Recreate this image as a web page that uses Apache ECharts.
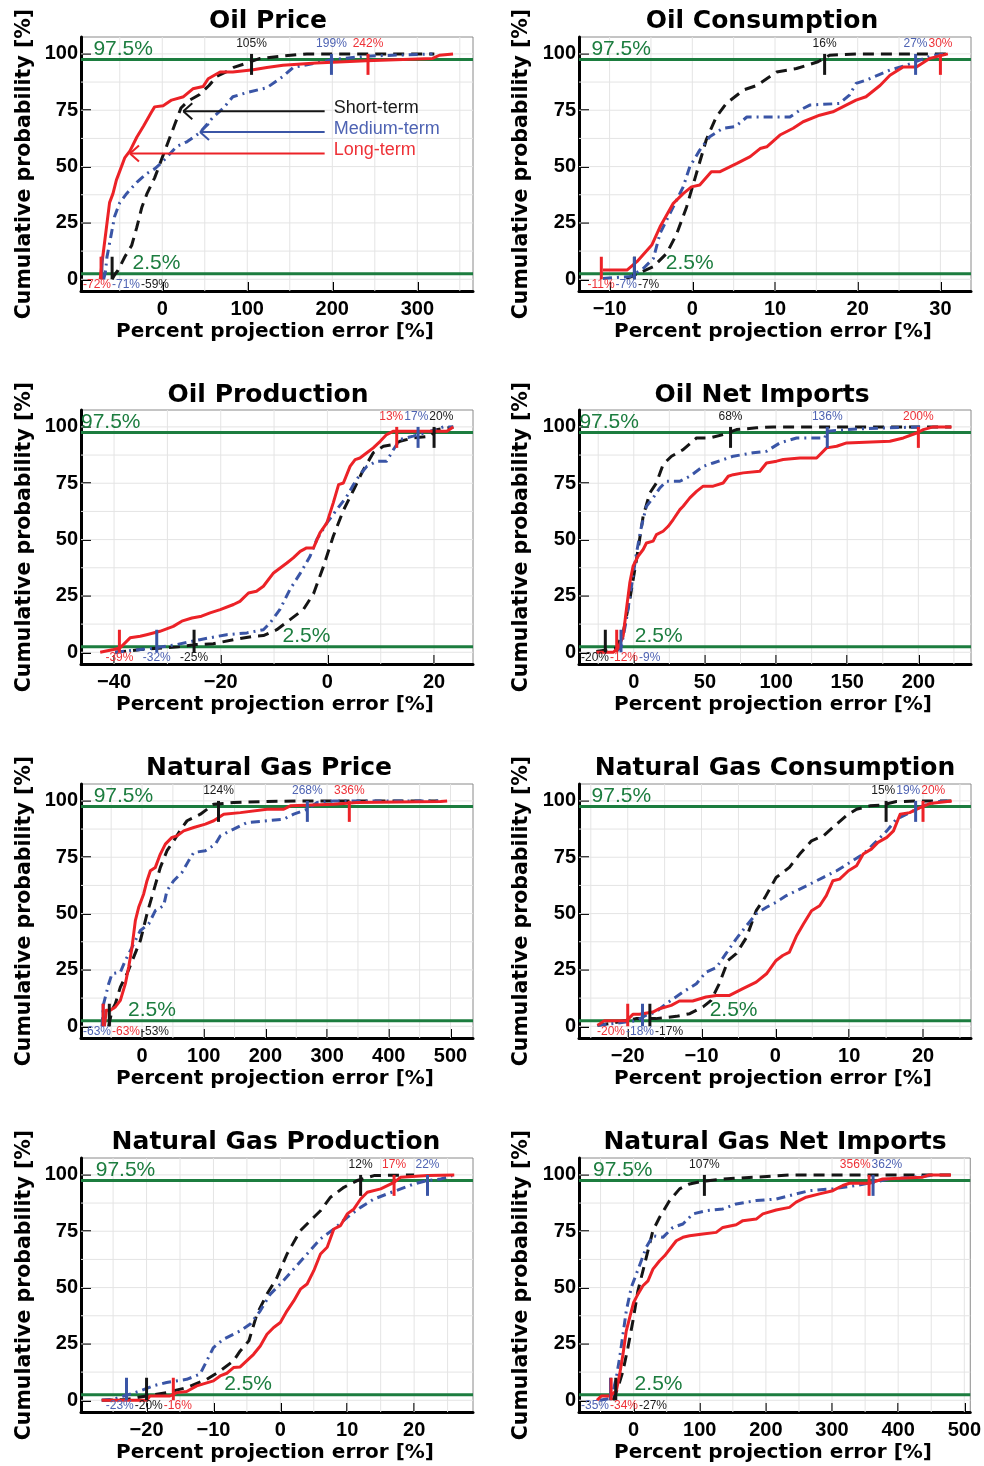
<!DOCTYPE html>
<html>
<head>
<meta charset="utf-8">
<script src="https://cdn.jsdelivr.net/npm/echarts@6/dist/echarts.min.js"></script>
<style>
  html, body { margin: 0; padding: 0; background: #fff; }
  #chart { width: 984px; height: 1466px; }
</style>
</head>
<body>
<div id="chart"></div>
<script>
// ---- Cumulative distributions of percent projection errors: [error %, cumulative %] ----
// Series order in every panel: short-term, medium-term, long-term.

// Oil Price
const opShort = [[-59,0],[-56,2],[-52,4],[-44,10],[-36,15],[-30,23],[-24,32],[-18,38],[-9,45],[-2,52],[3,57],[9,63],[15,69],[22,76],[30,79],[44,82],[55,86],[64,90],[75,92],[84,94],[100,96],[115,98],[140,99],[170,100],[320,100]];
const opMedium = [[-69,0],[-67,3],[-65,10],[-60,20],[-56,28],[-50,34],[-42,38],[-30,43],[-18,47],[-9,49],[-3,51],[5,54],[17,59],[29,61],[44,65],[60,72],[72,76],[83,81],[101,83],[123,85],[142,90],[154,94],[181,96],[201,97.5],[240,99],[318,100]];
const opLong = [[-73,0],[-70,10],[-66,22],[-62,34],[-58,38],[-54,44],[-50,48],[-44,54],[-38,57],[-30,63],[-22,68],[-13,74],[-9,76.5],[1,77],[11,79.5],[25,81],[36,84.5],[48,85.5],[54,89],[68,92],[83,92],[107,93],[123,94],[142,95],[181,96],[240,97],[318,98],[326,99.4],[342,100]];
const opLower = [-59, -71, -72];
const opUpper = [105, 199, 242];
const opTicks = [0, 100, 200, 300];

// Oil Consumption
const ocShort = [[-8,0.5],[-7.5,1],[-6.3,3],[-4.7,5.6],[-3.1,11.5],[-1.9,20],[-0.7,32],[0.5,47],[1.7,62],[2.9,72],[4.1,78],[6.2,84],[7.8,86],[10.2,92],[12.6,93.5],[15.2,96.5],[16.6,99.4],[19.8,100],[30.9,100]];
const ocMedium = [[-10.8,0.4],[-7.5,1.2],[-5.9,4.9],[-4.7,9.3],[-3.9,20.4],[-2.5,30.7],[-1.1,41],[-0.3,50],[0.9,57.3],[2.1,63.2],[3.7,67],[5.2,67.7],[6.6,72],[11.8,72],[13,75],[14.2,77.3],[17.8,78],[19,81.7],[19.8,86.9],[21,88.3],[23.9,92.8],[25.9,95],[27.5,97.2],[29.1,99.4],[30.7,100]];
const ocLong = [[-10.8,4.1],[-7.9,4.1],[-6.7,7.8],[-4.9,15.2],[-3.9,23.3],[-2.3,33.7],[-1.1,38],[-0.1,41],[0.9,41.8],[2.3,47.7],[3.3,47.7],[5.4,51.4],[7,54.4],[8.2,58],[9,58.8],[10.6,64],[12.2,67],[13.4,69.9],[15.4,72.8],[17,74.3],[18.6,77.3],[19.8,79.5],[21,81],[22.7,86],[23.9,90.5],[25.5,94.2],[27.1,94.2],[28.7,98],[30.9,100]];
const ocLower = [-7, -7, -11];
const ocUpper = [16, 27, 30];
const ocTicks = [-10, 0, 10, 20, 30];

// Oil Production
const prShort = [[-39.8,0],[-35,1.2],[-28,2.4],[-24.8,3.4],[-21.4,3.8],[-17.6,5.6],[-13.9,7.1],[-12,7.4],[-9.5,10],[-7,14.5],[-4.5,19],[-2.6,26],[-0.75,38],[1.1,51.5],[3,63],[4.9,72],[6.75,81],[8.6,88.5],[10.5,91.4],[12.4,92.2],[13.6,93.6],[16.1,95.1],[19.3,95.9],[20.5,98.8],[23.6,100]];
const prMedium = [[-39.8,0],[-32.6,1.9],[-28.3,3.4],[-23.9,5.6],[-18.9,7.8],[-15.1,8.6],[-12,10],[-10.75,13],[-8.9,19],[-7,28],[-5.1,35],[-3.25,42.6],[-2,50],[-0.1,57.4],[1.75,63.3],[3.6,69],[4.9,74.4],[6.1,78.8],[7.4,82.5],[9.25,84.8],[11.1,84.8],[12.4,90],[13.6,94.4],[16.1,95.9],[19.3,98.1],[21.75,100],[23.6,100]];
const prLong = [[-42.6,0],[-40.1,1.2],[-38.9,1.9],[-37,6.4],[-35.1,7.1],[-33.9,7.8],[-31.4,9.3],[-28.9,11.5],[-27.3,13.8],[-25.4,15.2],[-23.6,16],[-22,17.5],[-20.1,18.9],[-17.6,21.2],[-16.4,22.6],[-14.8,26.3],[-13.3,27.1],[-12,29.3],[-10.1,35.2],[-7.6,39.6],[-6.4,41.9],[-5.1,44.8],[-3.9,46.3],[-2.6,46.3],[-1.4,53],[-0.1,57.4],[1.1,66.3],[2.1,74.4],[3,75.1],[4.25,82.5],[5.2,85.5],[6.1,86.2],[7.4,88.5],[8.6,90.7],[9.9,93.6],[11.1,96.6],[12.4,98.1],[22.4,98.1],[23.6,100]];
const prLower = [-25, -32, -39];
const prUpper = [20, 17, 13];
const prTicks = [-40, -20, 0, 20];

// Oil Net Imports
const niShort = [[-26.3,0.4],[-19.2,1],[-12.2,1.9],[-7.5,8.6],[-2.8,23.4],[1.9,41.1],[6.6,60.4],[11.3,70.7],[15.9,75.1],[20.6,83.3],[26.5,87],[34.7,89.9],[44.1,95.1],[53.5,95.1],[62.8,96.6],[72.2,98.8],[86.3,99.6],[98,100],[223,100]];
const niMedium = [[-12.2,0.4],[-8.7,2.7],[-5.2,14.5],[-1.6,29.3],[1.9,44.1],[5.4,55.9],[8.9,64.8],[13.6,68.5],[18.3,72.9],[23,75.9],[32.4,75.9],[39.4,78.1],[48.8,82.5],[55.8,84],[69.9,87],[83.9,88.5],[93.3,89.2],[102.7,92.9],[114.4,95.1],[134.3,95.1],[135.5,98.1],[156.6,99.1],[180,99.6],[203.5,100]];
const niLong = [[-26.3,0],[-14.5,0],[-11,1.9],[-7.5,7.1],[-5.2,18.9],[-2.8,30.8],[-0.5,38.2],[3,42.6],[6.6,45.6],[8.9,48.5],[13.6,49.3],[15.9,52.2],[20.6,53.7],[24.2,55.9],[27.7,58.9],[32.4,63.3],[34.7,64.8],[39.4,68.5],[44.1,71.4],[48.8,73.7],[55.8,73.7],[62.8,75.1],[66.4,78.1],[69.9,78.8],[76.9,79.6],[88.6,80.3],[93.3,84],[100.4,84.8],[105,85.5],[116.8,86.2],[128.5,86.2],[135.5,90.7],[142.6,91.4],[149.6,92.9],[180,93.6],[189.5,95.1],[198.8,97.3],[203.5,98.8],[210.5,100],[223.4,100]];
const niLower = [-20, -9, -12];
const niUpper = [68, 136, 200];
const niTicks = [0, 50, 100, 150, 200];

// Natural Gas Price
const gpShort = [[-54,0],[-48.6,7.1],[-43.2,10],[-35.1,17.4],[-24.3,23.3],[-13.5,30.7],[-2.7,38],[8.1,49.9],[18.9,60.2],[29.7,70.5],[40.5,77.9],[51.4,82.3],[64.9,88.2],[73,91.2],[94.6,94.1],[116.2,98.5],[148.6,99.3],[202.7,99.7],[256.8,100],[480,100]];
const gpMedium = [[-64.9,0],[-62.2,10],[-54,18.9],[-48.6,23.3],[-35.1,24],[-27,29.2],[-18.9,33.6],[-2.7,42.5],[10.8,45.4],[21.6,51.3],[35.1,53.5],[40.5,60.2],[51.4,64.6],[64.9,68.3],[75.7,73.5],[83.8,77.1],[102.7,77.9],[118.9,80.8],[127,84.5],[148.6,87.5],[170.3,90.4],[202.7,91.2],[229.7,91.9],[245.9,94.1],[267.6,96.3],[283.8,99.3],[310.8,100],[480,100]];
const gpLong = [[-61,0],[-57.8,7.1],[-51.4,7.1],[-43.2,8.6],[-35.1,11.5],[-27,18.9],[-21.6,26.3],[-16.2,35.1],[-10.8,46.9],[-5.4,52.8],[2.7,58.7],[8.1,64.6],[13.5,69],[21.6,70.5],[29.7,76.4],[37.8,80.8],[48.6,83.8],[56.8,84.5],[67.6,86.7],[83.8,88.2],[102.7,89.7],[116.2,91.2],[132.4,94.1],[159.5,94.8],[202.7,96.3],[229.7,96.3],[240.5,97.8],[310.8,98.5],[348.6,99.3],[483.8,99.7],[494.6,100]];
const gpLower = [-53, -63, -63];
const gpUpper = [124, 268, 336];
const gpTicks = [0, 100, 200, 300, 400, 500];

// Natural Gas Consumption
const gcShort = [[-24.1,0.4],[-22.5,1.2],[-18.9,3.4],[-16.2,3.4],[-13.4,4.4],[-11.6,5.6],[-9.8,8.6],[-8.7,11.5],[-7.6,18.9],[-6.4,29.2],[-5.3,32.2],[-3.9,39.5],[-2.6,51.3],[-1.4,57.2],[0.1,66],[1.9,70.5],[3.3,76.4],[4.9,82.3],[6.5,84.5],[8.3,89.7],[9.6,93.4],[11,96.3],[12.8,97.8],[14.4,98.2],[16.4,99.7],[20,100],[23.9,100]];
const gcMedium = [[-24.1,0.4],[-18.9,2.4],[-17.5,4.9],[-16.2,6.3],[-14.8,10],[-12.5,15.2],[-10.7,18.9],[-9.4,24],[-8,26],[-6.7,32.2],[-5.3,38.8],[-3.9,44.7],[-2.6,49.9],[-1.2,52.8],[0.1,55],[1.5,58],[2.9,60.2],[4.7,63.1],[6.5,66.1],[8.3,69],[10.1,72.7],[11.9,76.4],[13.3,80.8],[15.1,86.7],[16.4,91.9],[18.2,94.8],[20,97.8],[21.9,99.7],[23.7,100]];
const gcLong = [[-24.1,0.4],[-23.2,2.4],[-20.2,2.4],[-19.3,5.3],[-18.4,5.3],[-16.6,6.3],[-15.7,7.8],[-14.1,9.3],[-13,11.2],[-11.2,11.2],[-9.4,13],[-8,13.7],[-6.2,13.7],[-4.4,16.7],[-2.6,19.6],[-1.2,23.3],[0.1,29.2],[1,31.4],[1.9,32.9],[2.9,40.3],[3.8,45.4],[4.9,51.3],[6,53.5],[6.9,58],[7.8,64.6],[8.7,65.3],[9.9,69],[11,71.2],[11.9,76.4],[13,78.6],[13.9,81.6],[15.1,83.8],[16,86.7],[16.9,94.1],[18.2,94.8],[19.6,97],[20.9,98.8],[23.9,100]];
const gcLower = [-17, -18, -20];
const gcUpper = [15, 19, 20];
const gcTicks = [-20, -10, 0, 10, 20];

// Natural Gas Production
const gdShort = [[-26.7,0],[-23,0.4],[-20,1.9],[-17,3.4],[-14,5.6],[-11,9.3],[-9,13],[-7,17.5],[-6,21.9],[-4.7,26.4],[-3.5,38.2],[-2,47.1],[-0.5,54.5],[1,64.9],[3,75.3],[5,81.2],[6,84.1],[7.5,90.1],[9.5,94.5],[11.5,97.5],[14,99.7],[20,100]];
const gdMedium = [[-26.7,0],[-25,0.4],[-23.4,1.9],[-21,4.1],[-19,6.4],[-17,7.9],[-14,9.3],[-12,11.6],[-10,23.4],[-8.5,27.1],[-6,30.8],[-4.5,33.8],[-3,39.7],[-1.5,47.1],[0,51.6],[2,58.2],[4,64.9],[6,71.6],[8,76],[10,81.2],[12,85.6],[14,89.3],[16,91.6],[18,93.8],[20,96],[22,97.5],[24,98.2],[25.7,99.7]];
const gdLong = [[-26.7,0],[-20,0],[-19.5,1.9],[-16.5,1.9],[-15.5,3.4],[-14,3.9],[-12.5,6.4],[-10,8.6],[-9,10.8],[-8,12],[-7,14.5],[-6,14.8],[-4,20.4],[-3,24.1],[-2,29.3],[-1,32.3],[0,34.5],[1,39.7],[2,44.1],[3,49.3],[4,51.6],[5,57.5],[6,64.9],[7,67.9],[8,76],[9,77.5],[10,82.7],[11,84.9],[12,89.3],[13,92.3],[15,93.8],[17,96.7],[18,99],[22,99.7],[26,100]];
const gdLower = [-20, -23, -16];
const gdUpper = [12, 22, 17];
const gdTicks = [-20, -10, 0, 10, 20];

// Natural Gas Net Imports
const gnShort = [[-31.2,0],[-23.7,5.6],[-16.1,13],[-8.6,23.4],[-1,35.3],[6.5,48.6],[16.6,60.4],[29.2,75.3],[39.3,81.2],[54.4,88.6],[69.5,93.8],[84.6,96],[104.7,97.2],[134.9,98.2],[185.3,99],[235.6,100],[480,100]];
const gnMedium = [[-51.4,0],[-33.7,0.9],[-26.2,10],[-21.1,19],[-16.1,29.3],[-11.1,39.7],[-3.5,50.1],[4,56],[11.6,61.9],[19.1,67.9],[29.2,73],[44.3,72.3],[59.4,76.7],[74.5,78.2],[89.6,82.7],[109.8,84.1],[134.9,84.9],[155.1,87.1],[185.3,88.6],[215.5,89.3],[235.6,90.8],[265.9,93],[301.1,93.8],[336.4,95.3],[361.5,96.7],[386.7,98.2],[437,99.3],[454.7,100]];
const gnLong = [[-55.4,0],[-48.8,1.9],[-36.3,1.9],[-26.2,4.1],[-21.1,11.6],[-16.1,20.4],[-11.1,30.8],[-6,36.7],[0,43.4],[6.5,47.1],[14.1,50.8],[21.7,53],[29.2,58.2],[39.3,61.9],[46.8,64.1],[56.9,67.9],[64.5,70.8],[74.5,72.3],[84.6,73],[104.7,73.8],[124.9,74.5],[134.9,76.7],[155.1,77.9],[165.2,79.7],[185.3,80.4],[195.4,82.7],[215.5,84.4],[235.6,85.6],[245.7,87.9],[260.8,90.1],[281,91.6],[301.1,93],[316.2,95.3],[326.3,96.3],[356.5,96.3],[376.6,98.2],[437,99],[447.1,100],[479.9,100]];
const gnLower = [-27, -35, -34];
const gnUpper = [107, 362, 356];
const gnTicks = [0, 100, 200, 300, 400, 500];

const probTicks = [0, 25, 50, 75, 100];
const legendNames = ['Short-term', 'Medium-term', 'Long-term'];
const legendTips = [[24.7, 74.6], [44.4, 65.4], [-38, 55.8]];
const legendTailX = 191;

// ---- Panels ----
const panels = [
  { title: 'Oil Price', curves: [opShort, opMedium, opLong], lower: opLower, upper: opUpper, ticks: opTicks },
  { title: 'Oil Consumption', curves: [ocShort, ocMedium, ocLong], lower: ocLower, upper: ocUpper, ticks: ocTicks },
  { title: 'Oil Production', curves: [prShort, prMedium, prLong], lower: prLower, upper: prUpper, ticks: prTicks },
  { title: 'Oil Net Imports', curves: [niShort, niMedium, niLong], lower: niLower, upper: niUpper, ticks: niTicks },
  { title: 'Natural Gas Price', curves: [gpShort, gpMedium, gpLong], lower: gpLower, upper: gpUpper, ticks: gpTicks },
  { title: 'Natural Gas Consumption', curves: [gcShort, gcMedium, gcLong], lower: gcLower, upper: gcUpper, ticks: gcTicks },
  { title: 'Natural Gas Production', curves: [gdShort, gdMedium, gdLong], lower: gdLower, upper: gdUpper, ticks: gdTicks },
  { title: 'Natural Gas Net Imports', curves: [gnShort, gnMedium, gnLong], lower: gnLower, upper: gnUpper, ticks: gnTicks }
];

// ---- Layout and styling ----
const X_RANGE = [[-95.6, 365.5], [-13.7, 33.7], [-46.2, 27.3], [-38.5, 237], [-98.9, 536.5], [-26.6, 26.5], [-29.8, 28.8], [-82.6, 509]];
const GRID_STEP = [50, 5, 10, 25, 50, 5, 5, 50];
const NOTE97_X = [-81, -12.2, -46.2, -38.2, -78.4, -24.9, -27.6, -61.5];
const NOTE25_X = [-35, -3.2, -8.4, 0.7, -22.7, -8.9, -8.4, 1.5];
const TITLE_POS = [[268, 21], [762, 21], [268, 395], [762, 395], [269, 768], [775, 768], [276, 1142], [775, 1142]];
const Y_RANGE = [-5.2, 107.5];
const GRID_LEFT = [81, 579];
const GRID_TOP = [37, 410, 784, 1158];
const GRID_W = 392, GRID_H = 254;

const LINE_COLORS = ['#151515', '#3a55a6', '#ec2227'];
const TEXT_COLORS = ['#1a1a1a', '#4e63b3', '#ee3137'];
const LINE_TYPES = [[11, 7], [9, 5, 2, 5], 'solid'];
const GREEN = '#1c7d3f';
const BOLD = '"DejaVu Sans", sans-serif';
const SANS = '"Liberation Sans", Arial, sans-serif';
const QFONT = '12px ' + SANS;

const measureCtx = document.createElement('canvas').getContext('2d');
function textWidth(text, font) { measureCtx.font = font; return measureCtx.measureText(text).width; }

function txt(x, y, text, font, fill, align, valign) {
  return { type: 'text', x: x, y: y, style: {
    text: text, font: font, fill: fill,
    align: align, verticalAlign: valign, textAlign: align, textVerticalAlign: valign } };
}
function seg(a, b, color, width) {
  return { type: 'line', shape: { x1: a[0], y1: a[1], x2: b[0], y2: b[1] },
    style: { stroke: color, lineWidth: width, lineCap: 'butt' } };
}

// Place labels centred on their marks, merging overlapping runs around their mean centre.
function spreadLabels(items, lo, hi, gap) {
  let groups = items.map(it => ({ members: [it], width: it.w }));
  groups.forEach(g => { g.center = g.members[0].c; });
  let changed = true;
  while (changed) {
    changed = false;
    for (let i = 0; i < groups.length - 1; i++) {
      const a = groups[i], b = groups[i + 1];
      if (a.center + a.width / 2 + gap > b.center - b.width / 2) {
        const members = a.members.concat(b.members);
        groups.splice(i, 2, {
          members: members,
          width: a.width + b.width + gap,
          center: members.reduce((s, m) => s + m.c, 0) / members.length
        });
        changed = true;
        break;
      }
    }
  }
  groups.forEach(g => {
    let left = g.center - g.width / 2;
    if (left + g.width > hi) left = hi - g.width;
    if (left < lo) left = lo;
    g.members.forEach(m => { m.left = left; left += m.w + gap; });
  });
}

const TIE_RANK = [2, 0, 1];

function backgroundRender(p) {
  return function (params, api) {
    const cs = params.coordSys;
    const children = [];
    const step = GRID_STEP[p];
    for (let v = Math.ceil(X_RANGE[p][0] / step) * step; v <= X_RANGE[p][1]; v += step) {
      const x = api.coord([v, 0])[0];
      children.push(seg([x, cs.y], [x, cs.y + cs.height], '#e4e4e4', 1));
    }
    for (let v = 0; v <= 100; v += 12.5) {
      const y = api.coord([0, v])[1];
      children.push(seg([cs.x, y], [cs.x + cs.width, y], '#e4e4e4', 1));
    }
    [2.5, 97.5].forEach(v => {
      const y = api.coord([0, v])[1];
      children.push(seg([cs.x, y], [cs.x + cs.width, y], GREEN, 3));
    });
    return { type: 'group', children: children };
  };
}

function overlayRender(p) {
  return function (params, api) {
    const cs = params.coordSys;
    const P = panels[p];
    const children = [];
    // quantile marks
    for (let k = 0; k < 3; k++) {
      children.push(seg(api.coord([P.lower[k], 0]), api.coord([P.lower[k], 10]), LINE_COLORS[k], 3));
      children.push(seg(api.coord([P.upper[k], 90.7]), api.coord([P.upper[k], 100]), LINE_COLORS[k], 3));
    }
    // quantile labels
    [[P.lower, -2.6], [P.upper, 104.6]].forEach(([vals, yv]) => {
      const items = vals.map((v, k) => {
        const t = v + '%';
        return { k: k, v: v, t: t, w: textWidth(t, QFONT), c: api.coord([v, yv])[0] };
      }).sort((a, b) => (a.v - b.v) || (TIE_RANK[a.k] - TIE_RANK[b.k]));
      spreadLabels(items, cs.x + 2, cs.x + cs.width - 2, 1);
      const y = api.coord([0, yv])[1];
      items.forEach(it => children.push(txt(it.left, y, it.t, QFONT, TEXT_COLORS[it.k], 'left', 'middle')));
    });
    // 97.5% / 2.5% notes
    const n97 = api.coord([NOTE97_X[p], 102]);
    const n25 = api.coord([NOTE25_X[p], 7]);
    children.push(txt(n97[0], n97[1], '97.5%', '21px ' + SANS, GREEN, 'left', 'middle'));
    children.push(txt(n25[0], n25[1], '2.5%', '21px ' + SANS, GREEN, 'left', 'middle'));
    // legend arrows
    if (p === 0) {
      legendTips.forEach((tip, k) => {
        const a = api.coord(tip);
        const b = api.coord([legendTailX, tip[1]]);
        children.push(seg(b, a, LINE_COLORS[k], 2));
        children.push(seg(a, [a[0] + 9, a[1] - 8], LINE_COLORS[k], 2));
        children.push(seg(a, [a[0] + 9, a[1] + 8], LINE_COLORS[k], 2));
        children.push(txt(b[0] + 9, a[1] - 3, legendNames[k], '18px ' + SANS, TEXT_COLORS[k], 'left', 'middle'));
      });
    }
    return { type: 'group', children: children };
  };
}

const grids = [], xAxes = [], yAxes = [], series = [], graphics = [];
const fmt = v => String(v).replace('-', '\u2212');

panels.forEach((P, i) => {
  const col = i % 2, row = Math.floor(i / 2);
  const left = GRID_LEFT[col], top = GRID_TOP[row];
  grids.push({ left: left, top: top, width: GRID_W, height: GRID_H, show: true,
    borderColor: '#8a8a8a', borderWidth: 1, backgroundColor: '#fff' });
  xAxes.push({
    type: 'value', gridIndex: i, min: X_RANGE[i][0], max: X_RANGE[i][1],
    axisLine: { show: true, onZero: false, lineStyle: { color: '#000', width: 3 } },
    axisTick: { show: true, inside: true, length: 9, customValues: P.ticks, lineStyle: { color: '#000', width: 2 } },
    axisLabel: { customValues: P.ticks, formatter: fmt, color: '#000', fontFamily: SANS, fontWeight: 'bold', fontSize: 20, margin: 8 },
    splitLine: { show: false }
  });
  yAxes.push({
    type: 'value', gridIndex: i, min: Y_RANGE[0], max: Y_RANGE[1],
    axisLine: { show: true, onZero: false, lineStyle: { color: '#000', width: 3 } },
    axisTick: { show: true, inside: true, length: 10, customValues: probTicks, lineStyle: { color: '#000', width: 2 } },
    axisLabel: { customValues: probTicks, color: '#000', fontFamily: SANS, fontWeight: 'bold', fontSize: 20, margin: 3 },
    splitLine: { show: false }
  });
  series.push({ type: 'custom', xAxisIndex: i, yAxisIndex: i, z: 1, silent: true,
    renderItem: backgroundRender(i), data: [[0, 0]] });
  P.curves.forEach((curve, k) => {
    series.push({ type: 'line', name: legendNames[k], xAxisIndex: i, yAxisIndex: i, z: 3 + k,
      data: curve, showSymbol: false, symbol: 'none', silent: true,
      lineStyle: { color: LINE_COLORS[k], width: 3, type: LINE_TYPES[k], cap: 'butt', join: 'round' } });
  });
  series.push({ type: 'custom', xAxisIndex: i, yAxisIndex: i, z: 10, silent: true,
    renderItem: overlayRender(i), data: [[0, 0]] });

  graphics.push(txt(TITLE_POS[i][0], TITLE_POS[i][1], P.title, 'bold 25px ' + BOLD, '#000', 'center', 'middle'));
  graphics.push(txt(left + GRID_W / 2 - 2, top + GRID_H + 41, 'Percent projection error [%]', 'bold 20px ' + BOLD, '#000', 'center', 'middle'));
  const yName = txt(col === 0 ? 25 : 522, top + GRID_H / 2, 'Cumulative probability [%]', 'bold 20.5px ' + BOLD, '#000', 'center', 'middle');
  yName.rotation = Math.PI / 2;
  graphics.push(yName);
});

const chart = echarts.init(document.getElementById('chart'), null, { renderer: 'canvas' });
chart.setOption({
  animation: false,
  backgroundColor: '#fff',
  grid: grids,
  xAxis: xAxes,
  yAxis: yAxes,
  series: series,
  graphic: { elements: graphics }
});
</script>
</body>
</html>
